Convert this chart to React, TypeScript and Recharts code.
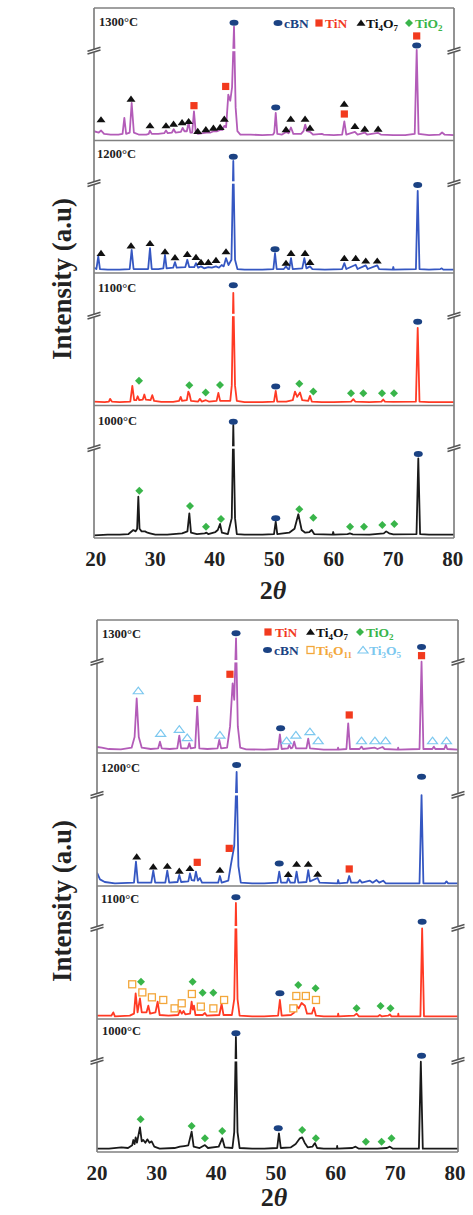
import React from 'react';
import { ComposedChart, Line, Scatter, XAxis, YAxis, ReferenceLine, ReferenceDot } from 'recharts';

type Pt = [number, number];

const FONT = "'Liberation Serif', 'Times New Roman', serif";

const COLORS = {
  c1300: '#b35cb8',
  c1200: '#3557c2',
  c1100: '#ff3a24',
  c1000: '#1a1a1a',
  cbn: '#1b4283',
  tin: '#f23a1e',
  ti4o7: '#111111',
  tio2: '#39b54a',
  ti6o11: '#f3a73b',
  ti3o5: '#7cc8ef',
  frame: '#808080',
};

const xTicks = [20, 30, 40, 50, 60, 70, 80];

// ---------- upper figure: patterns (2θ, relative intensity within its panel) ----------
const a1300Line: Pt[] = [[19.7,0.07],[20.5,0.06],[20.9,0.075],[21.4,0.05],[22.5,0.045],[23.8,0.045],[24.5,0.05],[24.8,0.17],[25.1,0.05],[25.7,0.06],[26.03,0.283],[26.4,0.06],[27.2,0.045],[28.5,0.045],[28.9,0.05],[29.1,0.075],[29.4,0.05],[30.5,0.05],[31.5,0.055],[31.8,0.075],[32.1,0.055],[32.8,0.06],[33.1,0.085],[33.4,0.06],[34.3,0.065],[34.6,0.095],[34.9,0.07],[35.3,0.07],[35.6,0.135],[35.9,0.06],[36.2,0.06],[36.5,0.22],[36.8,0.06],[37.2,0.05],[38.0,0.055],[38.6,0.06],[39.3,0.06],[39.8,0.07],[40.4,0.07],[40.9,0.08],[41.3,0.08],[41.6,0.11],[41.9,0.1],[42.27,0.346],[42.6,0.3],[42.9,0.4],[43.23,0.86],[43.5,0.25],[43.8,0.07],[44.3,0.045],[46,0.045],[48,0.04],[49.8,0.045],[50.0,0.06],[50.24,0.208],[50.5,0.05],[51.3,0.045],[52.0,0.065],[52.4,0.055],[52.8,0.098],[53.2,0.05],[54.5,0.05],[54.9,0.07],[55.2,0.12],[55.5,0.07],[56.0,0.065],[56.5,0.045],[58.0,0.05],[58.3,0.045],[60,0.04],[61.4,0.045],[61.77,0.145],[62.1,0.045],[63.55,0.065],[64,0.045],[65.2,0.06],[65.6,0.045],[67.4,0.058],[67.9,0.045],[70,0.04],[72,0.04],[73.6,0.05],[73.93,0.684],[74.25,0.05],[76,0.04],[77.8,0.045],[78.2,0.06],[78.6,0.045],[80.2,0.04]];
const a1200Line: Pt[] = [[19.7,0.04],[20.1,0.03],[20.42,0.125],[20.7,0.03],[22,0.025],[24,0.025],[25.7,0.03],[26.03,0.174],[26.35,0.03],[27.5,0.03],[28.8,0.03],[29.11,0.187],[29.4,0.03],[30.5,0.03],[31.35,0.035],[31.63,0.137],[31.9,0.035],[33.0,0.04],[33.31,0.082],[33.6,0.04],[35.05,0.045],[35.38,0.1],[35.7,0.045],[36.55,0.045],[36.84,0.075],[37.2,0.04],[37.68,0.05],[38.2,0.035],[38.91,0.045],[39.5,0.04],[40.2,0.05],[40.7,0.04],[41.16,0.06],[41.5,0.05],[41.88,0.112],[42.3,0.06],[42.8,0.1],[43.11,0.846],[43.4,0.1],[43.8,0.03],[45,0.025],[48,0.025],[49.85,0.03],[50.12,0.149],[50.4,0.03],[51.6,0.03],[51.97,0.05],[52.3,0.03],[52.5,0.03],[52.81,0.112],[53.1,0.03],[54.7,0.035],[55.05,0.112],[55.4,0.035],[56.0,0.05],[56.4,0.03],[58.5,0.025],[61.4,0.03],[61.77,0.075],[62.1,0.03],[63.68,0.062],[64.0,0.03],[65.37,0.058],[65.7,0.03],[67.3,0.057],[67.6,0.03],[69.9,0.025],[70.0,0.045],[70.1,0.025],[73.8,0.03],[74.1,0.62],[74.4,0.03],[76,0.025],[77.9,0.03],[78.14,0.035],[78.4,0.025],[80.2,0.025]];
const a1100Line: Pt[] = [[19.7,0.03],[21.5,0.025],[22.2,0.03],[22.4,0.05],[22.7,0.03],[24,0.025],[25.8,0.03],[26.14,0.148],[26.45,0.04],[26.8,0.04],[27.04,0.07],[27.3,0.04],[27.9,0.045],[28.16,0.083],[28.4,0.045],[29.2,0.04],[29.5,0.078],[29.8,0.035],[31,0.028],[33,0.028],[34.0,0.035],[34.27,0.065],[34.5,0.035],[35.3,0.04],[35.55,0.105],[35.75,0.085],[36.0,0.035],[37.2,0.03],[37.5,0.05],[37.8,0.03],[38.5,0.04],[39,0.03],[40.3,0.035],[40.6,0.095],[40.9,0.035],[42.6,0.035],[42.85,0.15],[43.11,0.85],[43.4,0.15],[43.7,0.035],[45,0.025],[48,0.025],[49.95,0.03],[50.24,0.11],[50.5,0.03],[52,0.03],[53.1,0.04],[53.48,0.105],[53.85,0.065],[54.32,0.098],[54.7,0.04],[55.7,0.035],[56.0,0.073],[56.3,0.03],[58,0.025],[60,0.025],[62.9,0.03],[63.28,0.048],[63.6,0.03],[66,0.025],[68.0,0.03],[68.3,0.045],[68.6,0.03],[70,0.028],[73.8,0.03],[74.1,0.586],[74.4,0.03],[76,0.025],[80.2,0.025]];
const a1000Line: Pt[] = [[19.7,0.02],[22,0.025],[24,0.025],[25.5,0.03],[26.31,0.06],[26.7,0.05],[26.95,0.07],[27.15,0.312],[27.35,0.07],[27.7,0.05],[28.27,0.05],[28.7,0.04],[29.11,0.035],[30,0.025],[32,0.025],[34.5,0.035],[35.4,0.05],[35.72,0.186],[36.0,0.04],[37,0.03],[38.3,0.035],[38.6,0.04],[38.9,0.03],[40.1,0.045],[40.5,0.06],[40.88,0.106],[41.2,0.04],[42.2,0.03],[42.85,0.15],[43.11,0.853],[43.4,0.15],[43.7,0.03],[45,0.025],[48,0.025],[49.95,0.03],[50.24,0.123],[50.5,0.03],[52.5,0.04],[53.4,0.07],[54.04,0.179],[54.6,0.06],[55.2,0.04],[55.9,0.045],[56.28,0.06],[56.7,0.03],[59.8,0.025],[59.9,0.045],[60.0,0.025],[62.3,0.03],[62.7,0.035],[63.2,0.028],[66,0.025],[68.4,0.035],[68.8,0.05],[69.3,0.035],[70,0.028],[73.9,0.03],[74.2,0.6],[74.5,0.03],[76,0.025],[80.2,0.025]];

// upper figure: phase markers
const a1300Cbn: Pt[] = [[43.23,0.889],[50.24,0.25],[73.93,0.717]];
const a1300Tin: Pt[] = [[36.5,0.263],[41.83,0.408],[61.77,0.2],[73.93,0.789]];
const a1300Ti4O7: Pt[] = [[20.88,0.158],[25.92,0.314],[29.11,0.113],[31.8,0.113],[33.07,0.125],[34.5,0.137],[35.6,0.145],[37.13,0.07],[38.5,0.083],[39.77,0.095],[40.9,0.1],[41.6,0.163],[51.97,0.083],[52.76,0.163],[55.17,0.163],[56.0,0.095],[61.75,0.276],[63.55,0.108],[65.2,0.088],[67.45,0.088]];
const a1200Cbn: Pt[] = [[43.11,0.878],[50.12,0.179],[74.1,0.664]];
const a1200Ti4O7: Pt[] = [[20.88,0.149],[25.92,0.206],[29.11,0.224],[31.63,0.162],[33.31,0.117],[35.38,0.142],[36.84,0.119],[37.68,0.082],[38.91,0.082],[40.2,0.097],[41.88,0.162],[51.97,0.075],[52.81,0.149],[55.17,0.149],[56.0,0.082],[61.77,0.112],[63.68,0.112],[65.37,0.092],[67.3,0.092]];
const a1100Cbn: Pt[] = [[43.11,0.907],[50.24,0.143],[74.1,0.632]];
const a1100TiO2: Pt[] = [[27.26,0.186],[35.72,0.153],[38.47,0.098],[40.88,0.155],[54.2,0.165],[56.56,0.105],[62.89,0.093],[64.96,0.093],[68.1,0.093],[70.12,0.093]];
const a1000Cbn: Pt[] = [[43.11,0.878],[50.24,0.149],[74.2,0.634]];
const a1000TiO2: Pt[] = [[27.31,0.357],[35.83,0.242],[38.52,0.085],[41.04,0.143],[54.2,0.217],[56.56,0.153],[62.73,0.085],[65.08,0.085],[68.15,0.098],[70.17,0.106]];

// ---------- lower figure: patterns ----------
const b1300Line: Pt[] = [[20,0.045],[20.8,0.04],[22,0.03],[24,0.028],[25.8,0.04],[26.3,0.12],[26.65,0.41],[27.0,0.12],[27.5,0.04],[29,0.03],[30.25,0.035],[30.55,0.085],[30.85,0.035],[32.2,0.03],[33.45,0.035],[33.79,0.13],[34.1,0.035],[35.2,0.035],[35.47,0.073],[35.7,0.035],[36.45,0.04],[36.8,0.348],[37.15,0.035],[38.5,0.03],[40.2,0.035],[40.49,0.098],[40.8,0.035],[41.8,0.04],[42.3,0.2],[42.73,0.524],[43.0,0.4],[43.3,0.862],[43.6,0.2],[44.0,0.04],[45,0.028],[48,0.025],[50.35,0.03],[50.65,0.14],[50.95,0.03],[52.0,0.035],[52.21,0.06],[52.5,0.035],[52.75,0.04],[53.05,0.085],[53.35,0.035],[55.1,0.035],[55.4,0.108],[55.7,0.035],[58,0.025],[60.3,0.025],[60.4,0.04],[60.5,0.025],[61.8,0.03],[62.1,0.223],[62.4,0.03],[64.0,0.03],[64.33,0.048],[64.6,0.03],[66.57,0.04],[67.0,0.03],[67.85,0.045],[68.2,0.03],[70.4,0.025],[70.47,0.04],[70.55,0.025],[74.05,0.03],[74.39,0.686],[74.7,0.03],[76.2,0.03],[76.45,0.048],[76.7,0.03],[78.2,0.03],[78.46,0.06],[78.7,0.03],[80.5,0.025]];
const b1200Line: Pt[] = [[20,0.1],[20.5,0.05],[21.3,0.03],[23,0.02],[26.2,0.025],[26.53,0.183],[26.85,0.025],[29.1,0.025],[29.43,0.115],[29.75,0.025],[31.45,0.025],[31.78,0.115],[32.1,0.025],[33.5,0.03],[33.79,0.083],[34.1,0.03],[35.3,0.035],[35.58,0.095],[35.85,0.045],[36.3,0.04],[36.58,0.108],[36.9,0.04],[37.25,0.06],[37.6,0.025],[39,0.025],[40.3,0.025],[40.6,0.075],[40.9,0.025],[42.0,0.04],[42.4,0.15],[42.73,0.233],[43.0,0.3],[43.4,0.857],[43.7,0.15],[44.1,0.025],[46,0.02],[48,0.02],[50.25,0.025],[50.54,0.108],[50.85,0.025],[51.8,0.025],[52.05,0.06],[52.4,0.025],[53.15,0.025],[53.45,0.108],[53.75,0.025],[55.1,0.03],[55.4,0.12],[55.7,0.035],[56.97,0.06],[57.3,0.025],[60.3,0.02],[60.42,0.045],[60.55,0.02],[61.95,0.025],[62.27,0.075],[62.6,0.025],[63.7,0.025],[64.05,0.045],[64.4,0.025],[65.73,0.04],[66.2,0.025],[66.85,0.045],[67.3,0.025],[67.96,0.04],[68.4,0.02],[71,0.02],[74.05,0.02],[74.39,0.684],[74.7,0.02],[78.3,0.02],[78.57,0.035],[78.85,0.02],[80.5,0.02]];
const b1100Line: Pt[] = [[20,0.025],[22.4,0.025],[22.73,0.05],[23.0,0.02],[25.5,0.025],[26.2,0.04],[26.48,0.193],[26.8,0.05],[27.2,0.155],[27.5,0.05],[28.3,0.05],[28.6,0.1],[28.9,0.04],[29.8,0.05],[30.16,0.13],[30.5,0.03],[32,0.025],[33.6,0.03],[33.9,0.065],[34.2,0.04],[34.5,0.06],[34.8,0.035],[35.6,0.04],[35.86,0.13],[36.05,0.07],[36.25,0.1],[36.5,0.03],[37.7,0.03],[38.09,0.045],[38.4,0.025],[40.5,0.03],[40.88,0.113],[41.2,0.03],[42.6,0.03],[43.0,0.15],[43.28,0.872],[43.55,0.15],[43.9,0.025],[46,0.02],[48,0.02],[50.35,0.025],[50.65,0.143],[50.95,0.025],[52.5,0.03],[53.1,0.05],[53.45,0.1],[53.8,0.08],[54.29,0.12],[54.84,0.1],[55.2,0.04],[56.0,0.04],[56.35,0.085],[56.7,0.025],[58,0.02],[60.35,0.02],[60.42,0.04],[60.5,0.02],[63.1,0.025],[63.5,0.04],[63.9,0.02],[67.1,0.02],[67.4,0.03],[67.7,0.02],[68.8,0.025],[69.08,0.035],[69.35,0.02],[70.45,0.02],[70.5,0.04],[70.55,0.02],[74.2,0.02],[74.49,0.682],[74.8,0.02],[80.5,0.02]];
const b1000Line: Pt[] = [[20,0.025],[22,0.025],[24.1,0.035],[25.2,0.03],[25.9,0.05],[26.09,0.09],[26.3,0.06],[26.48,0.11],[26.7,0.07],[27.2,0.185],[27.5,0.08],[27.76,0.09],[28.1,0.07],[28.43,0.095],[28.8,0.07],[29.16,0.08],[29.6,0.04],[30.5,0.025],[33,0.03],[33.9,0.04],[34.6,0.045],[35.3,0.05],[35.86,0.153],[36.2,0.04],[37.2,0.03],[38.09,0.052],[38.6,0.03],[40.4,0.04],[40.99,0.103],[41.4,0.035],[42.7,0.03],[43.0,0.15],[43.28,0.865],[43.55,0.15],[43.9,0.03],[46,0.025],[48,0.025],[50.2,0.03],[50.49,0.14],[50.8,0.03],[52.5,0.035],[53.3,0.06],[54.0,0.103],[54.39,0.11],[54.8,0.07],[55.3,0.035],[56.1,0.04],[56.52,0.067],[56.9,0.03],[58,0.025],[60.2,0.025],[60.25,0.045],[60.3,0.025],[62.8,0.03],[63.33,0.04],[63.9,0.025],[67,0.025],[68.6,0.03],[69.08,0.04],[69.6,0.025],[73.95,0.025],[74.27,0.679],[74.6,0.025],[77,0.025],[80.5,0.025]];

// lower figure: phase markers
const b1300Cbn: Pt[] = [[43.3,0.9],[50.77,0.186],[74.39,0.797]];
const b1300Tin: Pt[] = [[36.8,0.41],[42.28,0.592],[62.27,0.286],[74.39,0.732]];
const b1300Ti3O5: Pt[] = [[26.92,0.468],[30.67,0.148],[33.79,0.178],[35.13,0.115],[40.6,0.135],[51.77,0.092],[53.33,0.135],[55.68,0.16],[57.07,0.092],[64.33,0.092],[66.57,0.092],[68.36,0.092],[76.23,0.092],[78.57,0.092]];
const b1200Cbn: Pt[] = [[43.4,0.91],[50.54,0.17],[74.39,0.822]];
const b1200Tin: Pt[] = [[36.8,0.178],[42.16,0.283],[62.27,0.128]];
const b1200Ti4O7: Pt[] = [[26.65,0.22],[29.43,0.145],[31.78,0.15],[33.79,0.113],[35.58,0.133],[40.6,0.12],[52.05,0.088],[53.45,0.165],[55.4,0.165],[56.97,0.09]];
const b1100Cbn: Pt[] = [[43.28,0.915],[50.65,0.193],[74.49,0.732]];
const b1100TiO2: Pt[] = [[27.37,0.28],[36.03,0.28],[37.7,0.198],[39.49,0.198],[53.73,0.256],[56.63,0.231],[63.5,0.08],[67.52,0.098],[69.19,0.08]];
const b1100Ti6O11: Pt[] = [[25.9,0.261],[27.6,0.2],[29.2,0.163],[31.1,0.143],[33.0,0.08],[34.2,0.118],[35.9,0.188],[37.4,0.093],[39.5,0.08],[41.3,0.143],[52.9,0.08],[53.4,0.173],[55.0,0.173],[56.7,0.143]];
const b1000Cbn: Pt[] = [[43.28,0.892],[50.37,0.178],[74.39,0.724]];
const b1000TiO2: Pt[] = [[27.31,0.246],[35.86,0.195],[38.09,0.103],[40.99,0.158],[54.39,0.165],[56.68,0.103],[65.06,0.078],[67.69,0.078],[69.36,0.103]];

type Kind = 'cbn' | 'tin' | 'ti4o7' | 'tio2' | 'ti6o11' | 'ti3o5';

function marker(kind: Kind, cx: number, cy: number, key?: string) {
  switch (kind) {
    case 'cbn':
      return <ellipse key={key} cx={cx} cy={cy} rx={4.5} ry={3} fill={COLORS.cbn} />;
    case 'tin':
      return <rect key={key} x={cx - 3.6} y={cy - 3.6} width={7.2} height={7.2} fill={COLORS.tin} />;
    case 'ti4o7':
      return <polygon key={key} points={`${cx},${cy - 3.4} ${cx + 4.5},${cy + 2.8} ${cx - 4.5},${cy + 2.8}`} fill={COLORS.ti4o7} />;
    case 'tio2':
      return <polygon key={key} points={`${cx},${cy - 4} ${cx + 4},${cy} ${cx},${cy + 4} ${cx - 4},${cy}`} fill={COLORS.tio2} />;
    case 'ti6o11':
      return <rect key={key} x={cx - 3.5} y={cy - 3.5} width={7} height={7} fill="#fff" stroke={COLORS.ti6o11} strokeWidth={1.3} />;
    case 'ti3o5':
      return <polygon key={key} points={`${cx},${cy - 3.6} ${cx + 5},${cy + 3} ${cx - 5},${cy + 3}`} fill="#fff" stroke={COLORS.ti3o5} strokeWidth={1.2} />;
  }
}

const shapeOf = (kind: Kind) => (p: any) => marker(kind, p.cx, p.cy) as any;

// the "//" symbol where the intensity axis is interrupted
const BreakMark = (p: any) => {
  const { cx, cy } = p;
  return (
    <g>
      <polygon points={`${cx - 6},${cy + 1.6} ${cx + 6},${cy - 2.2} ${cx + 6},${cy + 0.6} ${cx - 6},${cy + 4.4}`} fill="#fff" />
      <line x1={cx - 6.5} y1={cy + 1.2} x2={cx + 6.5} y2={cy - 2.8} stroke="#555" strokeWidth={1.5} />
      <line x1={cx - 6.5} y1={cy + 4} x2={cx + 6.5} y2={cy} stroke="#555" strokeWidth={1.5} />
    </g>
  );
};

const rows = (pts: Pt[], off: number) => pts.map(([x, v]) => ({ x, y: off + v }));

type Panel = { off: number; color: string; line: Pt[]; marks: [Kind, Pt[]][] };

const panelsA: Panel[] = [
  { off: 3, color: COLORS.c1300, line: a1300Line, marks: [['ti4o7', a1300Ti4O7], ['tin', a1300Tin], ['cbn', a1300Cbn]] },
  { off: 2, color: COLORS.c1200, line: a1200Line, marks: [['ti4o7', a1200Ti4O7], ['cbn', a1200Cbn]] },
  { off: 1, color: COLORS.c1100, line: a1100Line, marks: [['tio2', a1100TiO2], ['cbn', a1100Cbn]] },
  { off: 0, color: COLORS.c1000, line: a1000Line, marks: [['tio2', a1000TiO2], ['cbn', a1000Cbn]] },
];

const panelsB: Panel[] = [
  { off: 3, color: COLORS.c1300, line: b1300Line, marks: [['ti3o5', b1300Ti3O5], ['tin', b1300Tin], ['cbn', b1300Cbn]] },
  { off: 2, color: COLORS.c1200, line: b1200Line, marks: [['ti4o7', b1200Ti4O7], ['tin', b1200Tin], ['cbn', b1200Cbn]] },
  { off: 1, color: COLORS.c1100, line: b1100Line, marks: [['ti6o11', b1100Ti6O11], ['tio2', b1100TiO2], ['cbn', b1100Cbn]] },
  { off: 0, color: COLORS.c1000, line: b1000Line, marks: [['tio2', b1000TiO2], ['cbn', b1000Cbn]] },
];

type GroupProps = {
  top: number;
  height: number;
  margin: { top: number; left: number; right: number; bottom: number };
  xDomain: [number, number];
  panels: Panel[];
  breakV: number;
  gap: [number, number];
};

function PatternGroup({ top, height, margin, xDomain, panels, breakV, gap }: GroupProps) {
  const [x0, x1] = xDomain;
  return (
    <div style={{ position: 'absolute', left: 0, top, width: 473, height }}>
      <ComposedChart width={473} height={height} margin={margin}>
        <XAxis
          dataKey="x"
          type="number"
          domain={xDomain}
          ticks={xTicks}
          allowDataOverflow
          height={40}
          tickLine={false}
          tickSize={0}
          tickMargin={13}
          axisLine={{ stroke: COLORS.frame, strokeWidth: 1.7 }}
          tick={{ fontSize: 21, fontWeight: 700, fill: '#222', fontFamily: FONT }}
        />
        <YAxis dataKey="y" type="number" domain={[0, 4]} hide allowDataOverflow />
        {panels.map((p) => (
          <Line
            key={`line-${p.off}`}
            data={rows(p.line, p.off)}
            dataKey="y"
            type="linear"
            stroke={p.color}
            strokeWidth={1.8}
            strokeLinejoin="round"
            dot={false}
            activeDot={false}
            isAnimationActive={false}
          />
        ))}
        {/* frame and panel separators */}
        <ReferenceLine x={x0} stroke={COLORS.frame} strokeWidth={1.7} />
        <ReferenceLine x={x1} stroke={COLORS.frame} strokeWidth={1.7} />
        <ReferenceLine y={4} stroke={COLORS.frame} strokeWidth={1.7} />
        {[1, 2, 3].map((y) => (
          <ReferenceLine key={`sep-${y}`} y={y} stroke={COLORS.frame} strokeWidth={1.7} />
        ))}
        {/* axis break across the tallest reflection */}
        {panels.map((p) => (
          <ReferenceLine
            key={`gap-${p.off}`}
            segment={[{ x: gap[0], y: p.off + breakV }, { x: gap[1], y: p.off + breakV }]}
            stroke="#fff"
            strokeWidth={2.4}
          />
        ))}
        {panels.flatMap((p) =>
          p.marks.map(([kind, pts]) => (
            <Scatter
              key={`m-${p.off}-${kind}`}
              data={rows(pts, p.off)}
              shape={shapeOf(kind)}
              isAnimationActive={false}
            />
          ))
        )}
        {panels.flatMap((p) => [
          <ReferenceDot key={`bl-${p.off}`} x={x0} y={p.off + breakV} shape={BreakMark} />,
          <ReferenceDot key={`br-${p.off}`} x={x1} y={p.off + breakV} shape={BreakMark} />,
        ])}
      </ComposedChart>
    </div>
  );
}

const panelLabels: [string, number, number][] = [
  ['1300°C', 99, 26],
  ['1200°C', 97, 158],
  ['1100°C', 98, 292],
  ['1000°C', 98, 425],
  ['1300°C', 102, 638],
  ['1200°C', 101, 772],
  ['1100°C', 101, 903],
  ['1000°C', 102, 1035],
];

function LegendText({ x, y, color, children }: { x: number; y: number; color: string; children: React.ReactNode }) {
  return (
    <text x={x} y={y + 4.6} fill={color} fontSize={13.5} fontWeight={700} fontFamily={FONT}>
      {children}
    </text>
  );
}

function Overlay() {
  return (
    <svg width={473} height={1215} style={{ position: 'absolute', left: 0, top: 0, pointerEvents: 'none' }}>
      {/* axis titles */}
      <text
        transform="translate(62,279) rotate(-90)"
        textAnchor="middle"
        dominantBaseline="central"
        fontSize={27}
        fontWeight={700}
        fontFamily={FONT}
        fill="#222"
      >
        Intensity (a.u)
      </text>
      <text
        transform="translate(62,901) rotate(-90)"
        textAnchor="middle"
        dominantBaseline="central"
        fontSize={27}
        fontWeight={700}
        fontFamily={FONT}
        fill="#222"
      >
        Intensity (a.u)
      </text>
      <text x={273} y={599} textAnchor="middle" fontSize={26} fontWeight={700} fontFamily={FONT} fill="#222">
        2<tspan fontStyle="italic">θ</tspan>
      </text>
      <text x={274} y={1206} textAnchor="middle" fontSize={26} fontWeight={700} fontFamily={FONT} fill="#222">
        2<tspan fontStyle="italic">θ</tspan>
      </text>

      {panelLabels.map(([t, x, y], i) => (
        <text key={i} x={x} y={y} fontSize={12.5} fontWeight={700} fontFamily={FONT} fill="#222">
          {t}
        </text>
      ))}

      {/* upper legend */}
      {marker('cbn', 278, 23)}
      <LegendText x={284} y={23} color={COLORS.cbn}>cBN</LegendText>
      {marker('tin', 319, 23)}
      <LegendText x={325} y={23} color={COLORS.tin}>TiN</LegendText>
      {marker('ti4o7', 361, 23)}
      <LegendText x={366} y={23} color="#111">Ti<tspan fontSize={9} dy={3}>4</tspan><tspan dy={-3}>O</tspan><tspan fontSize={9} dy={3}>7</tspan></LegendText>
      {marker('tio2', 409, 23)}
      <LegendText x={415} y={23} color={COLORS.tio2}>TiO<tspan fontSize={9} dy={3}>2</tspan></LegendText>

      {/* lower legend */}
      {marker('tin', 268, 632)}
      <LegendText x={275} y={632} color={COLORS.tin}>TiN</LegendText>
      {marker('ti4o7', 310.5, 632)}
      <LegendText x={316} y={632} color="#111">Ti<tspan fontSize={9} dy={3}>4</tspan><tspan dy={-3}>O</tspan><tspan fontSize={9} dy={3}>7</tspan></LegendText>
      {marker('tio2', 360, 632)}
      <LegendText x={366} y={632} color={COLORS.tio2}>TiO<tspan fontSize={9} dy={3}>2</tspan></LegendText>

      {marker('cbn', 267.5, 650)}
      <LegendText x={274} y={650} color={COLORS.cbn}>cBN</LegendText>
      {marker('ti6o11', 310.5, 650)}
      <LegendText x={316} y={650} color={COLORS.ti6o11}>Ti<tspan fontSize={9} dy={3}>6</tspan><tspan dy={-3}>O</tspan><tspan fontSize={9} dy={3}>11</tspan></LegendText>
      {marker('ti3o5', 363, 650)}
      <LegendText x={369} y={650} color={COLORS.ti3o5}>Ti<tspan fontSize={9} dy={3}>3</tspan><tspan dy={-3}>O</tspan><tspan fontSize={9} dy={3}>5</tspan></LegendText>
    </svg>
  );
}

export default function App() {
  return (
    <div style={{ position: 'absolute', left: 0, top: 0, width: 473, height: 1215, background: '#fff', fontFamily: FONT }}>
      <PatternGroup
        top={0}
        height={610}
        margin={{ top: 8, left: 94, right: 19, bottom: 32 }}
        xDomain={[19.7, 80.2]}
        panels={panelsA}
        breakV={0.683}
        gap={[42.6, 43.9]}
      />
      <PatternGroup
        top={610}
        height={605}
        margin={{ top: 10, left: 97, right: 15, bottom: 23 }}
        xDomain={[20, 80.5]}
        panels={panelsB}
        breakV={0.69}
        gap={[42.7, 44.0]}
      />
      <Overlay />
    </div>
  );
}
